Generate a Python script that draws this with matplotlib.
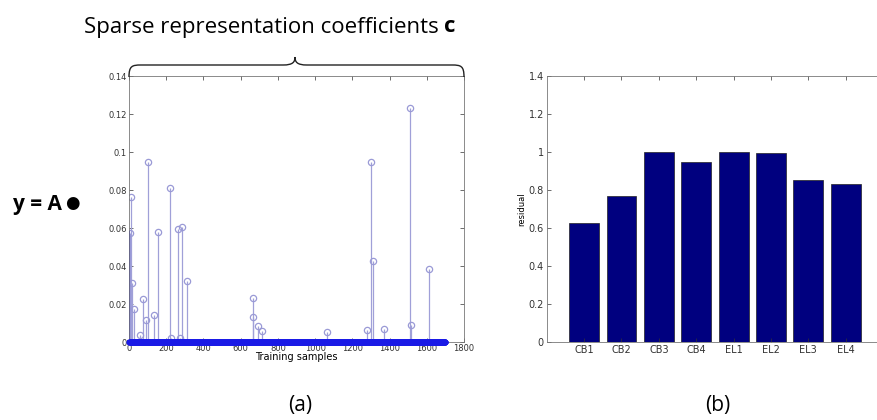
import numpy as np
import matplotlib.pyplot as plt
from matplotlib.patches import PathPatch
from matplotlib.path import Path

# nonzero sparse coefficients (index, value)
nz_idx = [7, 9, 14, 27, 59, 77, 90, 102, 136, 154, 218, 227, 263, 276, 287, 313,
          666, 668, 691, 716, 1066, 1279, 1300, 1311, 1368, 1512, 1513, 1610]
nz_val = [0.0575, 0.0763, 0.031, 0.0172, 0.0035, 0.0228, 0.0114, 0.095, 0.0144, 0.0577,
          0.081, 0.002, 0.0593, 0.002, 0.0603, 0.032,
          0.0232, 0.013, 0.0082, 0.0056, 0.0051, 0.0065, 0.0946, 0.0428, 0.0068,
          0.123, 0.0091, 0.0386]
n_samples = 1700

classes = ['CB1', 'CB2', 'CB3', 'CB4', 'EL1', 'EL2', 'EL3', 'EL4']
residual = [0.625, 0.77, 1.0, 0.95, 1.0, 0.993, 0.855, 0.83]

coef = np.zeros(n_samples)
coef[nz_idx] = nz_val
samples = np.arange(1, n_samples + 1)

fig = plt.figure(figsize=(8.77, 4.2), dpi=100)

# (a) stem plot of coefficients
ax1 = fig.add_axes([0.1471, 0.1857, 0.382, 0.633])
zero = coef == 0
ax1.plot(samples[zero], coef[zero], 'o', color='#1a1ae6', ms=3.2, mew=1.0, zorder=3,
         clip_on=False)
ax1.plot(samples[zero], coef[zero], '-', color='#1a1ae6', lw=3, zorder=3, clip_on=False)
ml, sl, bl = ax1.stem(nz_idx, nz_val, linefmt='-', markerfmt='o', basefmt=' ')
plt.setp(sl, color='#a0a0d8', linewidth=0.9)
plt.setp(ml, markerfacecolor='none', markeredgecolor='#9a9ad6', markersize=4.5, mew=0.9)
ax1.plot([0, 0], [0, 0.058], color='#1a1ae6', lw=1.5)
ax1.set_xlim(0, 1800)
ax1.set_ylim(0, 0.14)
ax1.set_xticks(range(0, 1801, 200))
ax1.set_yticks([0, 0.02, 0.04, 0.06, 0.08, 0.1, 0.12, 0.14])
ax1.set_yticklabels(['0', '0.02', '0.04', '0.06', '0.08', '0.1', '0.12', '0.14'])
ax1.set_xlabel('Training samples', fontsize=7, labelpad=-1)
ax1.tick_params(direction='in', top=True, right=True, labelsize=6, length=3,
                pad=1.5, colors='#333333', width=0.5)
for s in ax1.spines.values():
    s.set_color('#777777')
    s.set_linewidth(0.6)

# (b) residual bars
ax2 = fig.add_axes([0.6234, 0.1857, 0.3835, 0.633])
ax2.bar(range(1, 9), residual, width=0.8, color='#00007f', edgecolor='#222222', linewidth=0.5)
ax2.set_xlim(0, 9)
ax2.set_ylim(0, 1.4)
ax2.set_xticks(range(1, 9))
ax2.set_xticklabels(classes)
ax2.set_yticks([0, 0.2, 0.4, 0.6, 0.8, 1.0, 1.2, 1.4])
ax2.set_yticklabels(['0', '0.2', '0.4', '0.6', '0.8', '1', '1.2', '1.4'])
ax2.set_ylabel('residual', fontsize=6, labelpad=2)
ax2.tick_params(direction='in', top=True, right=True, labelsize=7, length=3,
                pad=2, colors='#333333', width=0.5)
for s in ax2.spines.values():
    s.set_color('#777777')
    s.set_linewidth(0.6)

# curly brace above (a)
W, H = 877, 420
def fx(px):
    return px / W
def fy(py):
    return 1 - py / H
x0, x1, xm = 129, 464, 295
verts = [(x0, 77), (x0, 66), (x0 + 3, 65), (x0 + 12, 65),
         (xm - 12, 65), (xm - 2, 65), (xm, 62), (xm, 57),
         (xm, 62), (xm + 2, 65), (xm + 12, 65),
         (x1 - 12, 65), (x1 - 3, 65), (x1, 66), (x1, 77)]
codes = [Path.MOVETO, Path.CURVE4, Path.CURVE4, Path.CURVE4,
         Path.LINETO, Path.CURVE4, Path.CURVE4, Path.CURVE4,
         Path.CURVE4, Path.CURVE4, Path.CURVE4,
         Path.LINETO, Path.CURVE4, Path.CURVE4, Path.CURVE4]
path = Path([(fx(a), fy(b)) for a, b in verts], codes)
fig.patches.append(PathPatch(path, transform=fig.transFigure, fill=False,
                             edgecolor='#222222', lw=1.0))

t = fig.text(fx(84), fy(27), 'Sparse representation coefficients ', fontsize=16,
             family='Open Sans', va='center', ha='left')
fig.canvas.draw()
bb = t.get_window_extent()
fig.text(bb.x1 / W, fy(27), 'c', fontsize=16, family='Open Sans', weight='bold',
         va='center', ha='left')
t2 = fig.text(fx(13), fy(204), 'y = A', fontsize=15, family='Open Sans',
              weight='bold', va='center', ha='left')
fig.canvas.draw()
bb2 = t2.get_window_extent()
fig.text(bb2.x1 / W + 0.004, fy(203), '\u25cf', fontsize=12, family='DejaVu Sans',
         va='center', ha='left')
fig.text(fx(300), fy(405), '(a)', fontsize=15, family='Open Sans', va='center', ha='center')
fig.text(fx(718), fy(405), '(b)', fontsize=15, family='Open Sans', va='center', ha='center')

fig.savefig('out.png', dpi=100)
